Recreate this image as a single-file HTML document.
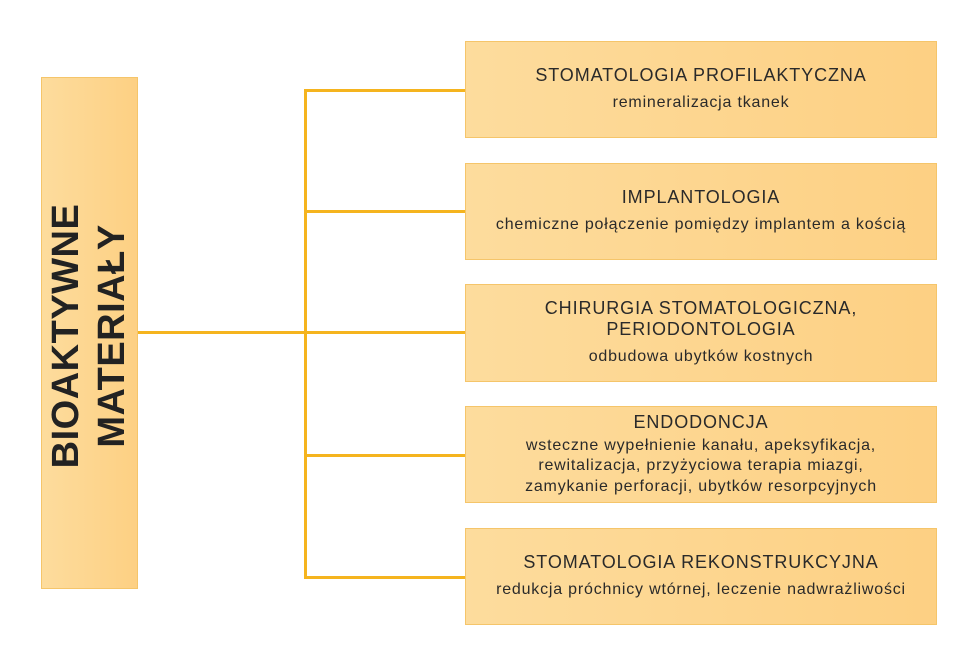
<!DOCTYPE html>
<html><head><meta charset="utf-8"><style>
body{margin:0;width:969px;height:654px;background:#fff;position:relative;overflow:hidden;font-family:"Liberation Sans",sans-serif}
.b{position:absolute;left:465px;width:472px;background:linear-gradient(90deg,#fddc9d,#fdd083);border:1px solid #f5c56a;box-sizing:border-box;text-align:center;color:#2a2a2a;display:flex;flex-direction:column;justify-content:center}
.t{font-size:18px;line-height:21px;letter-spacing:0.9px}
.s{font-size:16px;line-height:20.5px;margin-top:7px;letter-spacing:0.8px}
.l{position:absolute;background:#f5b41e}
#left{position:absolute;left:41px;top:77px;width:97px;height:512px;background:linear-gradient(90deg,#fddc9d,#fdd083);border:1px solid #f5c56a;box-sizing:border-box}
#lt{position:absolute;left:89px;top:336px;transform:translate(-50%,-50%) rotate(-90deg);white-space:nowrap;font-weight:bold;font-size:38px;line-height:46px;text-align:center;color:#222;letter-spacing:0.5px}
</style></head><body>
<div id="left"></div>
<div id="lt">BIOAKTYWNE<br>MATERIAŁY</div>
<div class="l" style="left:138px;top:331px;width:327px;height:3px"></div>
<div class="l" style="left:304px;top:89px;width:3px;height:490px"></div>
<div class="l" style="left:304px;top:89px;width:161px;height:3px"></div>
<div class="l" style="left:304px;top:210px;width:161px;height:3px"></div>
<div class="l" style="left:304px;top:454px;width:161px;height:3px"></div>
<div class="l" style="left:304px;top:576px;width:161px;height:3px"></div>
<div class="b" style="top:41px;height:97px"><div class="t">STOMATOLOGIA PROFILAKTYCZNA</div><div class="s">remineralizacja tkanek</div></div>
<div class="b" style="top:163px;height:97px"><div class="t">IMPLANTOLOGIA</div><div class="s">chemiczne połączenie pomiędzy implantem a kością</div></div>
<div class="b" style="top:284px;height:98px"><div class="t">CHIRURGIA STOMATOLOGICZNA,<br>PERIODONTOLOGIA</div><div class="s">odbudowa ubytków kostnych</div></div>
<div class="b" style="top:406px;height:97px"><div class="t">ENDODONCJA</div><div class="s" style="margin-top:3px">wsteczne wypełnienie kanału, apeksyfikacja,<br>rewitalizacja, przyżyciowa terapia miazgi,<br>zamykanie perforacji, ubytków resorpcyjnych</div></div>
<div class="b" style="top:528px;height:97px"><div class="t">STOMATOLOGIA REKONSTRUKCYJNA</div><div class="s">redukcja próchnicy wtórnej, leczenie nadwrażliwości</div></div>
</body></html>
